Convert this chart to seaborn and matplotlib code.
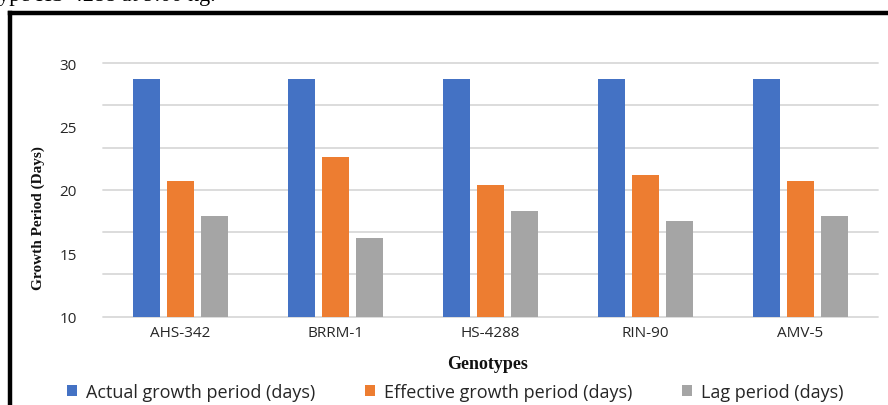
import numpy as np
import pandas as pd
import matplotlib
matplotlib.use("Agg")
import matplotlib.pyplot as plt
import seaborn as sns
from matplotlib.lines import Line2D
from matplotlib.patches import Patch

genotypes = ["AHS-342", "BRRM-1", "HS-4288", "RIN-90", "AMV-5"]
actual_growth = [28.7, 28.7, 28.7, 28.7, 28.7]
effective_growth = [20.7, 22.55, 20.35, 21.15, 20.7]
lag_period = [17.95, 16.2, 18.3, 17.55, 17.95]
series_names = ["Actual growth period (days)", "Effective growth period (days)", "Lag period (days)"]
colors = ["#4472C4", "#ED7D31", "#A5A5A5"]
ytick_values = [10, 15, 20, 25, 30]

rows = []
for name, vals in zip(series_names, [actual_growth, effective_growth, lag_period]):
    for g, v in zip(genotypes, vals):
        rows.append({"Genotype": g, "Series": name, "Value": v})
df = pd.DataFrame(rows)

sns.set_style("white")
plt.rcParams["font.family"] = ["Open Sans", "DejaVu Sans"]

W, H = 888, 406
fig = plt.figure(figsize=(W / 100, H / 100), dpi=100)
ax = fig.add_axes([103 / W, 1 - 317.5 / H, (878 - 103) / W, (317.5 - 64) / H])

# gridlines (7 evenly spaced lines between 10 and 30)
for k in range(7):
    ax.axhline(10 + 20 / 6 * k, color="#d9d9d9", linewidth=1.3, zorder=0, clip_on=False)

sns.barplot(data=df, x="Genotype", y="Value", hue="Series", palette=colors,
            order=genotypes, hue_order=series_names, width=0.658, gap=0.2,
            ax=ax, legend=False, saturation=1, edgecolor="none", zorder=2)

ax.set_ylim(10, 30)
ax.set_xlim(-0.5, len(genotypes) - 0.5)
ax.set_yticks(ytick_values)
ax.set_yticklabels([str(v) for v in ytick_values], fontsize=11, color="#262626")
ax.grid(False)
ax.tick_params(axis="y", length=0, pad=19)
ax.tick_params(axis="x", length=0, pad=6, labelsize=11, labelcolor="#262626")
for s in ax.spines.values():
    s.set_visible(False)
ax.set_xlabel("")
ax.set_ylabel("")

fig.text(38 / W, 1 - 218 / H, "Growth Period (Days)", rotation=90, ha="center", va="center",
         fontsize=11, fontweight="bold", family="Liberation Serif", color="#111111")
fig.text(488 / W, 1 - 365 / H, "Genotypes", ha="center", va="center",
         fontsize=13, fontweight="bold", family="Liberation Serif", color="#111111")

handles = [Patch(facecolor=c, edgecolor="none") for c in colors]
leg = fig.legend(handles, series_names, loc="center", bbox_to_anchor=(455 / W, 1 - 393 / H),
                 ncol=3, frameon=False, fontsize=13, handlelength=0.55, handleheight=0.55,
                 handletextpad=0.5, columnspacing=2.75, borderpad=0, borderaxespad=0)
for t in leg.get_texts():
    t.set_color("#262626")

# Frame and cut-off caption from the source page
fig.add_artist(Line2D([10 / W, 10 / W], [0, 1 - 13.5 / H], transform=fig.transFigure,
                      color="black", linewidth=3.2, solid_capstyle="projecting"))
fig.add_artist(Line2D([10 / W, 1], [1 - 13.5 / H, 1 - 13.5 / H], transform=fig.transFigure,
                      color="black", linewidth=3.2, solid_capstyle="projecting"))
fig.text(-8 / W, 1 - 1.5 / H, "type HS-4288 at 9.00 kg.", ha="left", va="baseline",
         fontsize=16, family="Liberation Serif", color="black")

fig.savefig("out.png", dpi=100, facecolor="white")
